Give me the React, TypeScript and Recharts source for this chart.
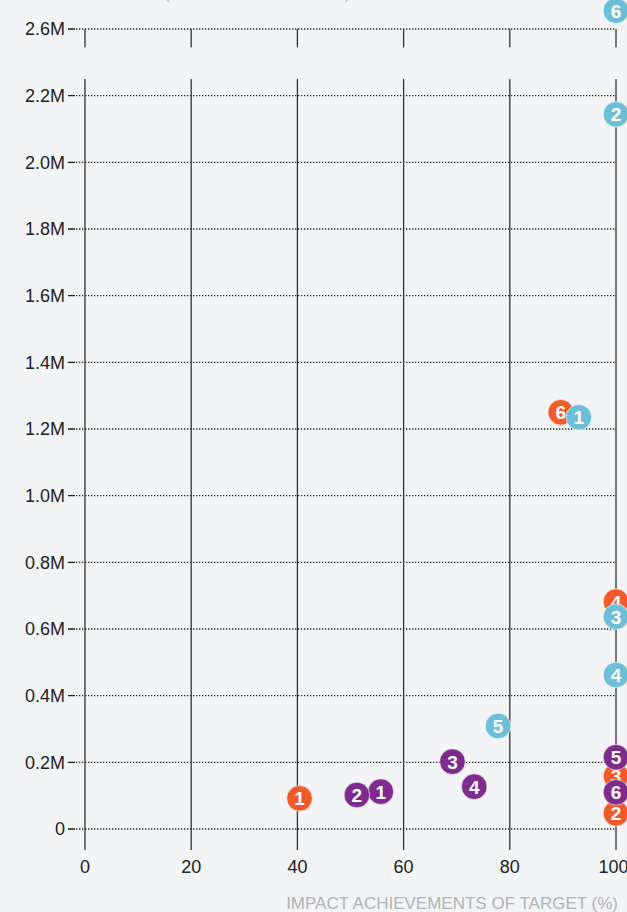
import React from 'react';
import { ScatterChart, Scatter, XAxis, YAxis, CartesianGrid, ReferenceLine } from 'recharts';

// ---- data ----
const orangeIds = [1, 2, 3, 4, 6];
const orangeX = [40.4, 100, 100, 100, 89.6];
const orangeY = [92000, 47000, 159000, 682000, 1250000];

const purpleIds = [1, 2, 3, 4, 5, 6];
const purpleX = [55.7, 51.2, 69.2, 73.3, 100, 100];
const purpleY = [112000, 102000, 202000, 127000, 215000, 110000];

const blueIds = [1, 2, 3, 4, 5, 6];
const blueX = [93.0, 100, 100, 100, 77.8, 100];
const blueY = [1235000, 2144000, 637000, 462000, 309000, 2655000];

const xTicks = [0, 20, 40, 60, 80, 100];
const yTicks = [0, 200000, 400000, 600000, 800000, 1000000, 1200000, 1400000, 1600000, 1800000, 2000000, 2200000, 2400000];
const yTickLabels = ['0', '0.2M', '0.4M', '0.6M', '0.8M', '1.0M', '1.2M', '1.4M', '1.6M', '1.8M', '2.0M', '2.2M', '2.6M'];

// axis break: values above breakAt are drawn 0.2M lower
const breakAt = 2300000;
const breakShift = 200000;
const gapLow = 2250000;
const gapHigh = 2345000;
const yMax = 2460000;
const lineBottom = -63000;

const xLabel = 'IMPACT ACHIEVEMENTS OF TARGET (%)';
const yTitle = 'REACH (NUMBER OF PEOPLE)';

const COLORS = { orange: '#f15a29', purple: '#7e2b8e', blue: '#6cbfd6' };
const BG = '#f3f4f6';
const FONT = '"Liberation Sans", Arial, Helvetica, sans-serif';

const toDisplay = (v: number) => (v > breakAt ? v - breakShift : v);
const build = (ids: number[], xs: number[], ys: number[]) =>
  ids.map((id, i) => ({ id, x: xs[i], y: toDisplay(ys[i]) }));

const orangeData = build(orangeIds, orangeX, orangeY);
const purpleData = build(purpleIds, purpleX, purpleY);
const blueData = build(blueIds, blueX, blueY);

const makeShape = (color: string) => (props: any) => {
  const { cx, cy, payload } = props;
  return (
    <g>
      <circle cx={cx} cy={cy} r={12.8} fill={color} stroke="#ffffff" strokeOpacity={0.6} strokeWidth={1} />
      <text
        x={cx}
        y={cy}
        dy="0.37em"
        textAnchor="middle"
        fill="#ffffff"
        fontSize={19}
        fontWeight={900}
        fontFamily={FONT}
      >
        {payload.id}
      </text>
    </g>
  );
};

export default function App() {
  return (
    <div style={{ position: 'absolute', left: 0, top: 0, width: 627, height: 912, background: BG, overflow: 'hidden' }}>
      <ScatterChart width={627} height={912} margin={{ top: 9, right: 11, bottom: 0, left: 0 }}>
        <CartesianGrid
          vertical={false}
          horizontalValues={yTicks}
          stroke="#1e1e1e"
          strokeWidth={1.3}
          strokeDasharray="1.3 1.7"
        />
        <XAxis
          type="number"
          dataKey="x"
          domain={[0, 100]}
          ticks={xTicks}
          axisLine={false}
          tickLine={false}
          tickSize={24}
          tickMargin={7}
          height={83}
          tick={{ fill: '#222', fontSize: 18, fontFamily: FONT }}
        />
        <YAxis
          type="number"
          dataKey="y"
          domain={[0, yMax]}
          ticks={yTicks}
          width={85}
          axisLine={false}
          tickSize={17}
          tickMargin={3}
          tickLine={{ stroke: '#1e1e1e', strokeWidth: 1.3, strokeDasharray: '7 1 1.3 1.7 1.3 1.7 1.3 1.7' }}
          tickFormatter={(v: number) => yTickLabels[yTicks.indexOf(v)] ?? ''}
          tick={{ fill: '#222', fontSize: 18, fontFamily: FONT }}
          interval={0}
        />
        {xTicks.map((t) => (
          <ReferenceLine
            key={'lo' + t}
            segment={[{ x: t, y: lineBottom }, { x: t, y: gapLow }]}
            stroke="#333333"
            strokeWidth={1.3}
            ifOverflow="visible"
          />
        ))}
        {xTicks.map((t) => (
          <ReferenceLine
            key={'hi' + t}
            segment={[{ x: t, y: gapHigh }, { x: t, y: yTicks[yTicks.length - 1] }]}
            stroke="#333333"
            strokeWidth={1.3}
            ifOverflow="visible"
          />
        ))}
        <Scatter data={orangeData} shape={makeShape(COLORS.orange)} isAnimationActive={false} />
        <Scatter data={blueData} shape={makeShape(COLORS.blue)} isAnimationActive={false} />
        <Scatter data={purpleData} shape={makeShape(COLORS.purple)} isAnimationActive={false} />
      </ScatterChart>
      <svg width={627} height={912} style={{ position: 'absolute', left: 0, top: 0, pointerEvents: 'none' }}>
        <text x={100} y={-1.5} fill="#b9bdc2" fontSize={17} fontFamily={FONT}>
          {yTitle}
        </text>
        <text x={618} y={909} textAnchor="end" fill="#aeb3b8" fontSize={17} fontFamily={FONT}>
          {xLabel}
        </text>
      </svg>
    </div>
  );
}
